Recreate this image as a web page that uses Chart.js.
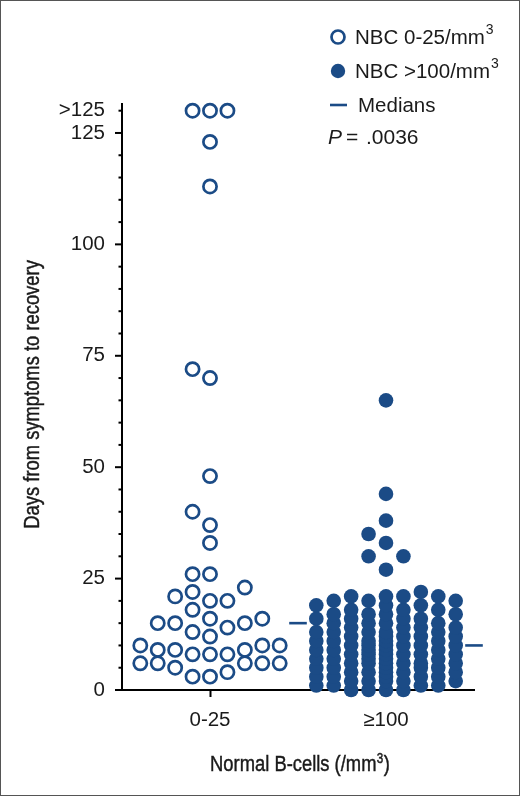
<!DOCTYPE html>
<html>
<head>
<meta charset="utf-8">
<script src="https://cdn.jsdelivr.net/npm/chart.js@4.4.1/dist/chart.umd.min.js"></script>
<style>
html,body{margin:0;padding:0;background:#fff;}
canvas{display:block;}
</style>
</head>
<body>
<canvas id="c" width="520" height="796"></canvas>
<script>
// ---------------- data ----------------
const categories = ['0-25', '\u2265100'];
const categoryPositions = [1, 2];
const seriesLabels = ['NBC 0-25/mm', 'NBC >100/mm', 'Medians'];
const xTitle = ['Normal B-cells (/mm', '3', ')'];
const yTitle = 'Days from symptoms to recovery';
// days from symptoms to recovery; 130 stands for ">125"
const lowNBC = [3,3,4,5,6,6,6,6,6,8,8,8,9,9,9,10,10,10,12,13,14,15,15,15,16,16,18,20,20,21,22,23,26,26,33,37,40,48,70,72,113,123,130,130,130];
const highNBC = [0,0,0,0,1,1,1,1,2,2,2,2,2,3,3,3,3,3,4,4,4,4,4,5,5,5,5,5,6,6,6,6,6,6,7,7,7,7,7,8,8,8,8,8,8,9,9,9,9,9,10,10,10,10,10,10,11,11,11,11,11,12,12,12,12,12,13,13,13,13,13,14,14,14,14,15,15,15,15,16,16,16,16,17,17,17,17,18,18,18,19,19,19,20,20,20,21,21,21,21,22,27,30,30,33,35,38,44,65];
const yTickValues = [0,5,10,15,20,25,30,35,40,45,50,55,60,65,70,75,80,85,90,95,100,105,110,115,120,125,130];
const yTickLabels = {0:'0',25:'25',50:'50',75:'75',100:'100',125:'125',130:'>125'};
const pText = '.0036';

// ---------------- style / layout ----------------
const NAVY = '#1b4b86';
const INK = '#1a1a1a';
const FONT = "'Liberation Sans', Arial, Helvetica, sans-serif";
const NARROW_SCALE = 0.835;
const swarmStep = 0.099;   // horizontal slot width in x units
const swarmSlots = 4;
const swarmGap = 3.2;      // min vertical gap (value units) to share a slot

function median(arr){
  const s = arr.slice().sort((a,b)=>a-b);
  const n = s.length;
  return n % 2 ? s[(n-1)/2] : (s[n/2-1] + s[n/2]) / 2;
}

function swarm(values, center){
  const order = values.map((v,i)=>i).sort((a,b)=>values[a]-values[b]);
  const slotOrder = [0];
  for (let k=1;k<=swarmSlots;k++){ slotOrder.push(-k, k); }
  const cols = {};
  const pts = [];
  for (const i of order){
    const v = values[i];
    let best = null, bestD = -1;
    for (const s of slotOrder){
      const arr = cols[s] || [];
      let d = Infinity;
      for (const u of arr){ d = Math.min(d, Math.abs(u - v)); }
      if (d >= swarmGap){ best = s; break; }
      if (d > bestD){ bestD = d; best = s; }
    }
    (cols[best] = cols[best] || []).push(v);
    pts.push({x: center + best*swarmStep, y: v});
  }
  return pts;
}

const lowPts = swarm(lowNBC, categoryPositions[0]);
const highPts = swarm(highNBC, categoryPositions[1]);
const medLow = median(lowNBC);
const medHigh = median(highNBC);

function drawNarrow(ctx, parts, size, supSize){
  ctx.font = size + 'px ' + FONT;
  const w0 = ctx.measureText(parts[0]).width;
  const w2 = ctx.measureText(parts[2] || '').width;
  ctx.font = supSize + 'px ' + FONT;
  const w1 = ctx.measureText(parts[1] || '').width;
  const total = w0 + w1 + w2 + 1;
  ctx.save();
  ctx.scale(NARROW_SCALE, 1);
  ctx.strokeStyle = INK;
  ctx.lineWidth = 0.45;
  let x = -total/2;
  ctx.textAlign = 'left';
  ctx.textBaseline = 'alphabetic';
  ctx.font = size + 'px ' + FONT;
  ctx.fillText(parts[0], x, 0); ctx.strokeText(parts[0], x, 0); x += w0 + 0.5;
  if (parts[1]) { ctx.font = supSize + 'px ' + FONT; ctx.fillText(parts[1], x, -size*0.38); ctx.strokeText(parts[1], x, -size*0.38); x += w1 + 0.5; }
  if (parts[2]) { ctx.font = size + 'px ' + FONT; ctx.fillText(parts[2], x, 0); ctx.strokeText(parts[2], x, 0); }
  ctx.restore();
}

const tickPlugin = {
  id: 'ticksAndFrame',
  beforeDatasetsDraw(chart){
    const ctx = chart.ctx;
    const y = chart.scales.y;
    const left = chart.chartArea.left;
    ctx.save();
    ctx.strokeStyle = '#000';
    ctx.lineWidth = 2;
    for (const v of yTickValues){
      const py = y.getPixelForValue(v);
      const major = (v % 25 === 0);
      const len = major ? 7 : 3.5;
      ctx.beginPath();
      ctx.moveTo(left - len, py);
      ctx.lineTo(left + 1, py);
      ctx.stroke();
    }
    ctx.restore();
  },
  afterDraw(chart){
    const ctx = chart.ctx;
    const ca = chart.chartArea;
    ctx.save();
    // frame
    ctx.strokeStyle = '#555';
    ctx.lineWidth = 1;
    ctx.strokeRect(0.5, 0.5, chart.width-1, chart.height-1);
    // axis titles (condensed)
    ctx.fillStyle = INK;
    ctx.save();
    ctx.translate((ca.left + ca.right)/2 + 2, 771);
    drawNarrow(ctx, xTitle, 22, 14);
    ctx.restore();
    ctx.save();
    ctx.translate(39, (ca.top + ca.bottom)/2 - 3);
    ctx.rotate(-Math.PI/2);
    drawNarrow(ctx, [yTitle, '', ''], 22, 14);
    ctx.restore();
    // legend
    const mx = 338, tx = 355;
    const rows = [37, 71, 105];
    ctx.textBaseline = 'middle';
    ctx.textAlign = 'left';
    ctx.beginPath(); ctx.arc(mx, rows[0], 6.5, 0, Math.PI*2);
    ctx.strokeStyle = NAVY; ctx.lineWidth = 2.7; ctx.stroke();
    ctx.beginPath(); ctx.arc(mx, rows[1], 7.2, 0, Math.PI*2);
    ctx.fillStyle = NAVY; ctx.fill();
    ctx.beginPath(); ctx.moveTo(330, rows[2]); ctx.lineTo(347, rows[2]);
    ctx.lineWidth = 2.6; ctx.stroke();
    ctx.fillStyle = INK;
    for (let i=0;i<2;i++){
      ctx.font = '20.5px ' + FONT;
      ctx.fillText(seriesLabels[i], tx, rows[i]+1);
      const w = ctx.measureText(seriesLabels[i]).width;
      ctx.font = '14px ' + FONT;
      ctx.fillText('3', tx + w + 1, rows[i]-7);
    }
    ctx.font = '20.5px ' + FONT;
    ctx.fillText(seriesLabels[2], 358, rows[2]+1);
    // P value
    ctx.font = 'italic 21px ' + FONT;
    ctx.fillText('P', 328, 138);
    ctx.font = '21px ' + FONT;
    ctx.fillText('=', 346, 138);
    ctx.fillText(pText, 366, 138);
    ctx.restore();
  }
};

const chart = new Chart(document.getElementById('c'), {
  type: 'scatter',
  data: {
    datasets: [
      { label: seriesLabels[0], data: lowPts, pointStyle: 'circle', pointRadius: 6.6, pointHoverRadius: 6.6,
        backgroundColor: 'rgba(0,0,0,0)', borderColor: NAVY, pointBorderWidth: 2.7, clip: false, order: 2 },
      { label: seriesLabels[1], data: highPts, pointStyle: 'circle', pointRadius: 7.3, pointHoverRadius: 7.3,
        backgroundColor: NAVY, borderColor: NAVY, pointBorderWidth: 0, clip: false, order: 1 },
      { type: 'line', label: 'median1', data: [{x: categoryPositions[0]+0.45, y: medLow}, {x: categoryPositions[0]+0.55, y: medLow}],
        borderColor: NAVY, borderWidth: 2.6, pointRadius: 0, showLine: true, clip: false, order: 0 },
      { type: 'line', label: 'median2', data: [{x: categoryPositions[1]+0.45, y: medHigh}, {x: categoryPositions[1]+0.55, y: medHigh}],
        borderColor: NAVY, borderWidth: 2.6, pointRadius: 0, showLine: true, clip: false, order: 0 }
    ]
  },
  options: {
    responsive: false,
    animation: false,
    devicePixelRatio: 1,
    layout: { padding: { left: 0, right: 46, top: 104, bottom: 0 } },
    plugins: { legend: { display: false }, tooltip: { enabled: false } },
    scales: {
      x: {
        type: 'linear', min: 0.5, max: 2.5,
        afterBuildTicks: (s) => { s.ticks = categoryPositions.map(v => ({value: v})); },
        afterFit: (s) => { s.height = 106; },
        ticks: {
          callback: (v) => { const i = categoryPositions.indexOf(v); return i >= 0 ? categories[i] : ''; },
          font: { family: FONT, size: 20.5 }, color: INK, padding: 11, maxRotation: 0, autoSkip: false
        },
        grid: { drawOnChartArea: false, drawTicks: true, tickLength: 7, tickColor: '#000', tickWidth: 2 },
        border: { display: true, color: '#000', width: 2 },
        title: { display: false }
      },
      y: {
        type: 'linear', min: 0, max: 131.5,
        afterBuildTicks: (s) => { s.ticks = yTickValues.map(v => ({value: v})); },
        afterFit: (s) => { s.width = 122; },
        ticks: {
          callback: (v) => (yTickLabels[v] !== undefined ? yTickLabels[v] : ''),
          font: { family: FONT, size: 20.5 }, color: INK, padding: 17, autoSkip: false
        },
        grid: { drawOnChartArea: false, drawTicks: false },
        border: { display: true, color: '#000', width: 2 },
        title: { display: false }
      }
    }
  },
  plugins: [tickPlugin]
});
</script>
</body>
</html>
